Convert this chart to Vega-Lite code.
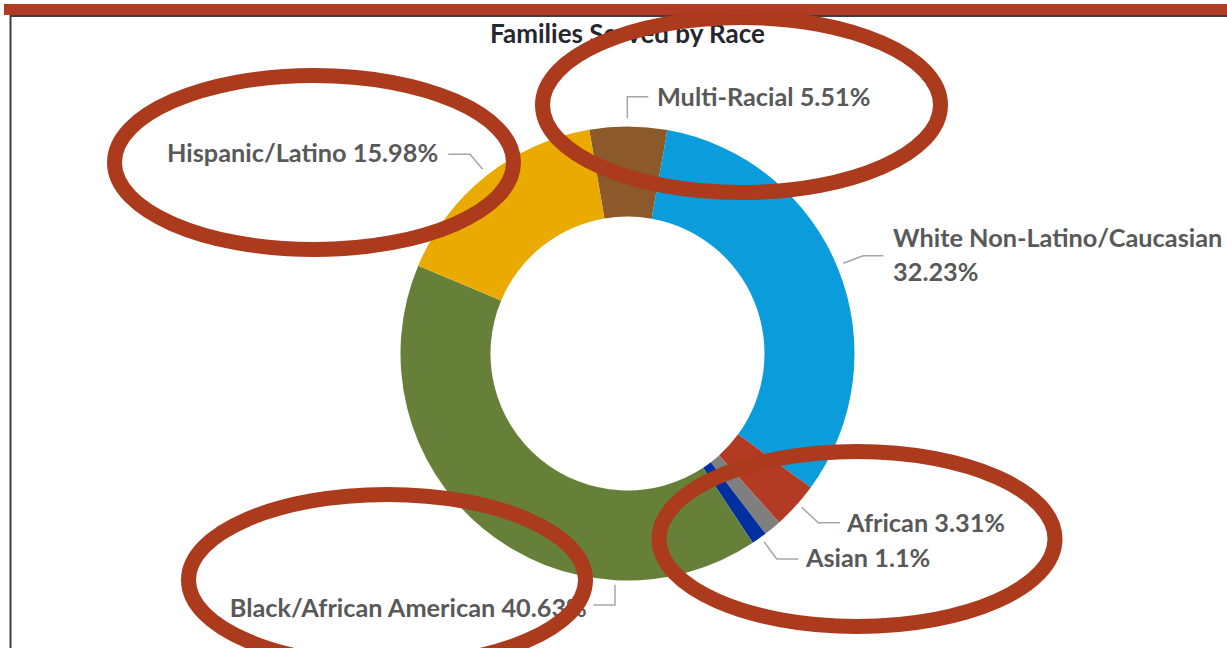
{
  "$schema": "https://vega.github.io/schema/vega-lite/v6.json",
  "width": 1199,
  "height": 589,
  "autosize": "none",
  "padding": {"left": 28, "top": 59, "right": 0, "bottom": 0},
  "background": "white",
  "config": {"view": {"stroke": null}},
  "data": {"values": [
    {"race": "Multi-Racial", "pct": 5.51, "rank": 1, "label": "Multi-Racial 5.51%"},
    {"race": "White Non-Latino/Caucasian", "pct": 32.23, "rank": 2, "label": "White Non-Latino/Caucasian\n32.23%"},
    {"race": "African", "pct": 3.31, "rank": 3, "label": "African 3.31%"},
    {"race": "Other", "pct": 1.24, "rank": 4, "label": ""},
    {"race": "Asian", "pct": 1.1, "rank": 5, "label": "Asian 1.1%"},
    {"race": "Black/African American", "pct": 40.63, "rank": 6, "label": "Black/African American 40.63%"},
    {"race": "Hispanic/Latino", "pct": 15.98, "rank": 7, "label": "Hispanic/Latino 15.98%"}
  ]},
  "layer": [
    {
      "data": {"values": [{}]},
      "mark": {"type": "point", "shape": "M -623.5 -349.5 L 599.5 -349.5 L 599.5 -338.5 L -623.5 -338.5 Z", "size": 4, "filled": true, "fill": "#B03C26", "strokeWidth": 0, "opacity": 1},
      "encoding": {}
    },
    {
      "data": {"values": [{}]},
      "mark": {"type": "point", "shape": "M -617 294.5 L -617 -337.5 L 599.5 -337.5", "size": 4, "filled": false, "stroke": "#3F3F3F", "strokeWidth": 2, "opacity": 1},
      "encoding": {}
    },
    {
      "mark": {"type": "arc", "innerRadius": 137, "outerRadius": 227},
      "encoding": {
        "theta": {"field": "pct", "type": "quantitative", "stack": true, "scale": {"range": [-0.1693, 6.1139]}},
        "order": {"field": "rank", "type": "quantitative"},
        "color": {"field": "race", "type": "nominal", "legend": null,
          "scale": {"domain": ["Multi-Racial", "White Non-Latino/Caucasian", "African", "Other", "Asian", "Black/African American", "Hispanic/Latino"],
                    "range": ["#8C5A2A", "#0A9CDB", "#B33B24", "#7F7F7F", "#002FA0", "#66803A", "#EBAA00"]}}
      }
    },
    {
      "data": {"values": [{}]},
      "mark": {"type": "point", "shape": "M -179.2 -199.2 L -157.5 -199.2 L -144.8 -184.2 M 20.8 -256.8 L -0.2 -256.8 L -0.2 -235.2 M 255.8 -97.8 L 235.8 -97.8 L 215.8 -90.2 M 212.5 169.2 L 190.8 169.2 L 174.2 153.8 M 170.8 205.5 L 149.2 205.5 L 136.5 188.2 M -34.2 251.5 L -12.5 251.5 L -12.5 231.5", "size": 4, "filled": false, "stroke": "#A6A6A6", "strokeWidth": 1.5, "opacity": 1},
      "encoding": {}
    },
    {
      "data": {"values": [{"title": "Families Served by Race"}]},
      "mark": {"type": "text", "theta": 0, "radius": 310.5, "align": "center", "baseline": "alphabetic", "font": "Lato", "fontSize": 26, "fontWeight": "bold", "color": "#262630"},
      "encoding": {"text": {"field": "title", "type": "nominal"}}
    },
    {
      "mark": {"type": "text", "radius": 250, "dx": 28.5, "dy": 2.5, "align": "left", "baseline": "alphabetic", "font": "Lato", "fontSize": 25.3, "fontWeight": "bold", "color": "#595959"},
      "encoding": {
        "theta": {"field": "pct", "type": "quantitative", "stack": true},
        "order": {"field": "rank", "type": "quantitative"},
        "text": {"condition": {"test": "datum.race === 'Multi-Racial'", "field": "label", "type": "nominal"}, "value": ""}
      }
    },
    {
      "mark": {"type": "text", "radius": 250, "dx": 33.5, "dy": -13.5, "align": "left", "baseline": "alphabetic", "lineBreak": "\n", "lineHeight": 34, "font": "Lato", "fontSize": 25.3, "fontWeight": "bold", "color": "#595959"},
      "encoding": {
        "theta": {"field": "pct", "type": "quantitative", "stack": true},
        "order": {"field": "rank", "type": "quantitative"},
        "text": {"condition": {"test": "datum.race === 'White Non-Latino/Caucasian'", "field": "label", "type": "nominal"}, "value": ""}
      }
    },
    {
      "mark": {"type": "text", "radius": 250, "dx": 34, "dy": 11, "align": "left", "baseline": "alphabetic", "font": "Lato", "fontSize": 25.3, "fontWeight": "bold", "color": "#595959"},
      "encoding": {
        "theta": {"field": "pct", "type": "quantitative", "stack": true},
        "order": {"field": "rank", "type": "quantitative"},
        "text": {"condition": {"test": "datum.race === 'African'", "field": "label", "type": "nominal"}, "value": ""}
      }
    },
    {
      "mark": {"type": "text", "radius": 250, "dx": 33.3, "dy": 10, "align": "left", "baseline": "alphabetic", "font": "Lato", "fontSize": 25.3, "fontWeight": "bold", "color": "#595959"},
      "encoding": {
        "theta": {"field": "pct", "type": "quantitative", "stack": true},
        "order": {"field": "rank", "type": "quantitative"},
        "text": {"condition": {"test": "datum.race === 'Asian'", "field": "label", "type": "nominal"}, "value": ""}
      }
    },
    {
      "mark": {"type": "text", "radius": 250, "dx": 118.8, "dy": 70.8, "align": "right", "baseline": "alphabetic", "font": "Lato", "fontSize": 25.3, "fontWeight": "bold", "color": "#595959"},
      "encoding": {
        "theta": {"field": "pct", "type": "quantitative", "stack": true},
        "order": {"field": "rank", "type": "quantitative"},
        "text": {"condition": {"test": "datum.race === 'Black/African American'", "field": "label", "type": "nominal"}, "value": ""}
      }
    },
    {
      "mark": {"type": "text", "radius": 250, "dx": -33.8, "dy": 4.2, "align": "right", "baseline": "alphabetic", "font": "Lato", "fontSize": 25.3, "fontWeight": "bold", "color": "#595959"},
      "encoding": {
        "theta": {"field": "pct", "type": "quantitative", "stack": true},
        "order": {"field": "rank", "type": "quantitative"},
        "text": {"condition": {"test": "datum.race === 'Hispanic/Latino'", "field": "label", "type": "nominal"}, "value": ""}
      }
    },
    {
      "data": {"values": [{}]},
      "mark": {"type": "point", "shape": "M -513 -191 A 199.5 87 0 1 0 -114 -191 A 199.5 87 0 1 0 -513 -191 Z M -85 -248.5 A 199 87.5 0 1 0 313 -248.5 A 199 87.5 0 1 0 -85 -248.5 Z M -439 226.5 A 198.5 85.5 0 1 0 -42 226.5 A 198.5 85.5 0 1 0 -439 226.5 Z M 31.5 185.5 A 198 87.5 0 1 0 427.5 185.5 A 198 87.5 0 1 0 31.5 185.5 Z", "size": 4, "filled": false, "stroke": "#AB3B1C", "strokeWidth": 15, "opacity": 1},
      "encoding": {}
    }
  ]
}
